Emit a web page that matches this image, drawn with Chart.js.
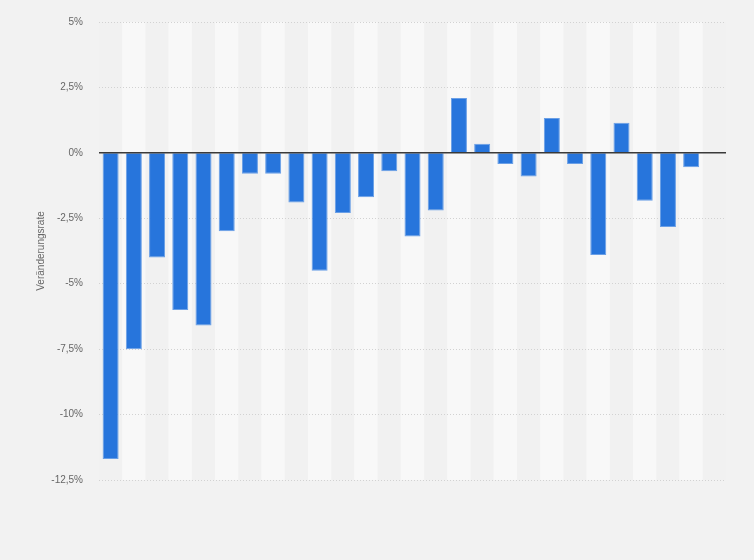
<!DOCTYPE html>
<html lang="de">
  <head>
    <meta charset="UTF-8" />
    <title>Veränderungsrate</title>
    <script src="https://cdn.jsdelivr.net/npm/chart.js@4.4.0/dist/chart.umd.min.js"></script>
    <style>
      body { margin: 0; background: #f2f2f2; }
      canvas { display: block; }
    </style>
  </head>
  <body>
    <canvas id="myChart" width="754" height="560"></canvas>

    <script>
      // 27 Kategorien, die letzte ohne Wert
      const categories = ['1', '2', '3', '4', '5', '6', '7', '8', '9', '10', '11', '12', '13',
        '14', '15', '16', '17', '18', '19', '20', '21', '22', '23', '24', '25', '26', '27'];
      const rates = [-11.7, -7.5, -4.0, -6.0, -6.6, -3.0, -0.8, -0.8, -1.9, -4.5, -2.3, -1.7, -0.7,
        -3.2, -2.2, 2.1, 0.35, -0.43, -0.9, 1.33, -0.43, -3.9, 1.15, -1.83, -2.83, -0.55, null];
      const yTicks = [5, 2.5, 0, -2.5, -5, -7.5, -10, -12.5];

      function formatPct(v) {
        return String(v).replace('.', ',') + '%';
      }

      // abwechselnde Spalten im Hintergrund + Nulllinie
      const bandsPlugin = {
        id: 'bands',
        beforeDraw(chart) {
          const { ctx, chartArea, scales } = chart;
          const x = scales.x;
          const step = (chartArea.right - chartArea.left) / categories.length;
          ctx.save();
          ctx.fillStyle = '#f8f8f8';
          ctx.fillRect(chartArea.left, chartArea.top, chartArea.right - chartArea.left, chartArea.bottom - chartArea.top);
          categories.forEach((c, i) => {
            const cx = x.getPixelForValue(i);
            ctx.fillStyle = i % 2 === 0 ? '#f1f1f1' : '#f8f8f8';
            ctx.fillRect(cx - step / 2, chartArea.top, step, chartArea.bottom - chartArea.top);
          });
          ctx.restore();
        },
        afterDatasetsDraw(chart) {
          const { ctx, chartArea, scales } = chart;
          const y0 = scales.y.getPixelForValue(0);
          ctx.save();
          ctx.strokeStyle = '#3a3a3a';
          ctx.lineWidth = 1.5;
          ctx.beginPath();
          ctx.moveTo(chartArea.left, y0);
          ctx.lineTo(chartArea.right, y0);
          ctx.stroke();
          ctx.restore();
        }
      };

      const ctx = document.getElementById('myChart').getContext('2d');
      const myChart = new Chart(ctx, {
        type: 'bar',
        data: {
          labels: categories,
          datasets: [
            {
              label: 'Veränderungsrate',
              data: rates,
              backgroundColor: '#2775dc',
              borderColor: '#6a9fe6',
              borderWidth: 1,
              categoryPercentage: 1,
              barPercentage: 0.69
            }
          ]
        },
        options: {
          responsive: false,
          animation: false,
          layout: { padding: { top: 20, right: 28, bottom: 80, left: 0 } },
          plugins: {
            legend: { display: false },
            tooltip: { enabled: false }
          },
          scales: {
            x: { display: false },
            y: {
              min: -12.5,
              max: 5,
              afterFit(scale) { scale.width = 99; },
              afterBuildTicks(scale) { scale.ticks = yTicks.map(v => ({ value: v })); },
              ticks: {
                padding: 16,
                color: '#666',
                font: { family: '"Liberation Sans", Arial, sans-serif', size: 10 },
                callback: v => formatPct(v)
              },
              grid: {
                drawTicks: false,
                color: ctx => (ctx.tick && ctx.tick.value === 0 ? 'rgba(0,0,0,0)' : '#d2d2d2'),
                lineWidth: 1
              },
              border: { display: false, dash: [1, 2] },
              title: {
                display: true,
                text: 'Veränderungsrate',
                color: '#666',
                font: { family: '"Liberation Sans", Arial, sans-serif', size: 10 },
                padding: { top: 35, bottom: 0 }
              }
            }
          }
        },
        plugins: [bandsPlugin]
      });
    </script>
  </body>
</html>
